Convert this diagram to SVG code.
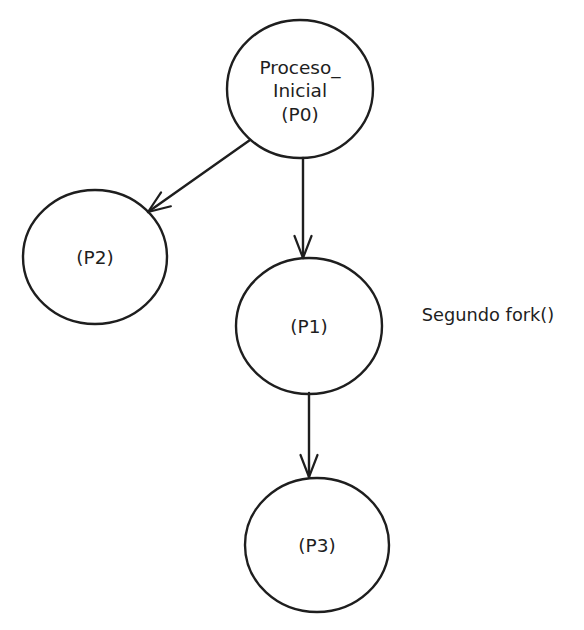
<svg xmlns="http://www.w3.org/2000/svg" width="584" height="630" viewBox="0 0 584 630">
<defs>
<style>
.node{fill:none;stroke:#1e1e1e;stroke-width:2.4;}
.edge{fill:none;stroke:#1e1e1e;stroke-width:2.4;stroke-linecap:round;}
.lbl{font-family:"DejaVu Sans","Liberation Sans",sans-serif;font-size:18.5px;fill:#1e1e1e;text-anchor:middle;}
</style>
<marker id="arr" markerUnits="userSpaceOnUse" viewBox="-24 -12 28 24" refX="0" refY="0" markerWidth="28" markerHeight="24" orient="auto">
<path d="M-22 -8.5 L0 0 L-22 8.5" fill="none" stroke="#1e1e1e" stroke-width="2.2" stroke-linecap="round" stroke-linejoin="round"/>
</marker>
</defs>
<rect width="584" height="630" fill="#ffffff"/>
<g id="connectors">
<path class="edge" d="M250 140 L148 212" marker-end="url(#arr)"/>
<path class="edge" d="M303 158 L303 258" marker-end="url(#arr)"/>
<path class="edge" d="M309 393 L309 477" marker-end="url(#arr)"/>
</g>
<g id="P0">
<ellipse class="node" cx="300" cy="89" rx="73" ry="69"/>
<text class="lbl" x="300" y="74">Proceso_</text>
<text class="lbl" x="300" y="97">Inicial</text>
<text class="lbl" x="300" y="121">(P0)</text>
</g>
<g id="P2">
<ellipse class="node" cx="95" cy="257" rx="72" ry="67"/>
<text class="lbl" x="95" y="264">(P2)</text>
</g>
<g id="P1">
<ellipse class="node" cx="309" cy="326" rx="73" ry="68"/>
<text class="lbl" x="309" y="333">(P1)</text>
</g>
<g id="P3">
<ellipse class="node" cx="317" cy="545" rx="72" ry="67"/>
<text class="lbl" x="317" y="552">(P3)</text>
</g>
<g id="note">
<text class="lbl" x="488" y="321" style="font-size:17.8px">Segundo fork()</text>
</g>
</svg>
